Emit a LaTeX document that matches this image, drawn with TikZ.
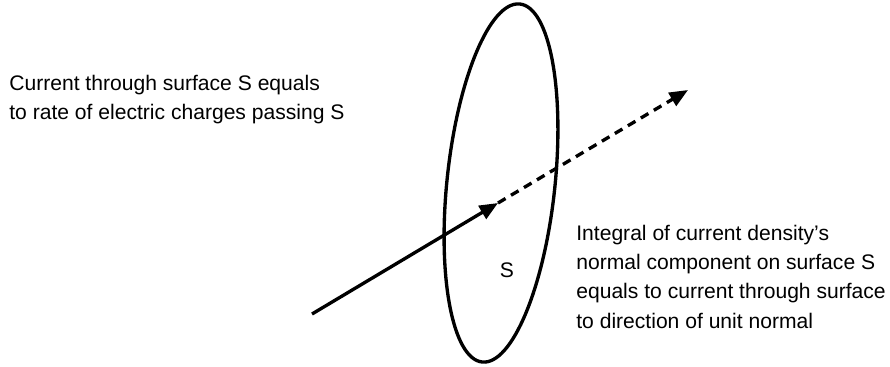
\documentclass[tikz,border=0pt]{standalone}
\usepackage{fontspec}
\setmainfont{Liberation Sans}
\usepackage{tikz}
\usetikzlibrary{arrows.meta, positioning}
\tikzset{
  infotext/.style={align=left, inner sep=0pt, font=\fontsize{12pt}{16.6pt}\selectfont},
  surfline/.style={line width=1.9pt},
  normarrow/.style={line width=1.9pt, -{Triangle[length=10.5pt, width=8.5pt]}},
  normdash/.style={normarrow, dash pattern=on 5pt off 3.6pt},
}
\begin{document}
\begin{tikzpicture}[x=0.02cm, y=0.02cm]
  \useasboundingbox (0,0) rectangle (890,-366);
  % surface S
  \draw[surfline, rotate around={-6:(501,-183)}] (501,-183) ellipse (54 and 180);
  \node[infotext] (slabel) at (507,-270) {S};
  % normal through the surface
  \coordinate (nstart) at (312,-314);
  \coordinate (nmid) at (498,-203);
  \coordinate (nend) at (688,-90);
  \draw[normarrow] (nstart) -- (nmid);
  \draw[normdash] (nmid) -- (nend);
  % texts
  \node[infotext, anchor=north west] (lefttext) at (9,-75)
    {Current through surface S equals\\to rate of electric charges passing S};
  \node[infotext, anchor=north west] (righttext) at (576,-225)
    {Integral of current density’s\\normal component on surface S\\equals to current through surface\\to direction of unit normal};
\end{tikzpicture}
\end{document}
